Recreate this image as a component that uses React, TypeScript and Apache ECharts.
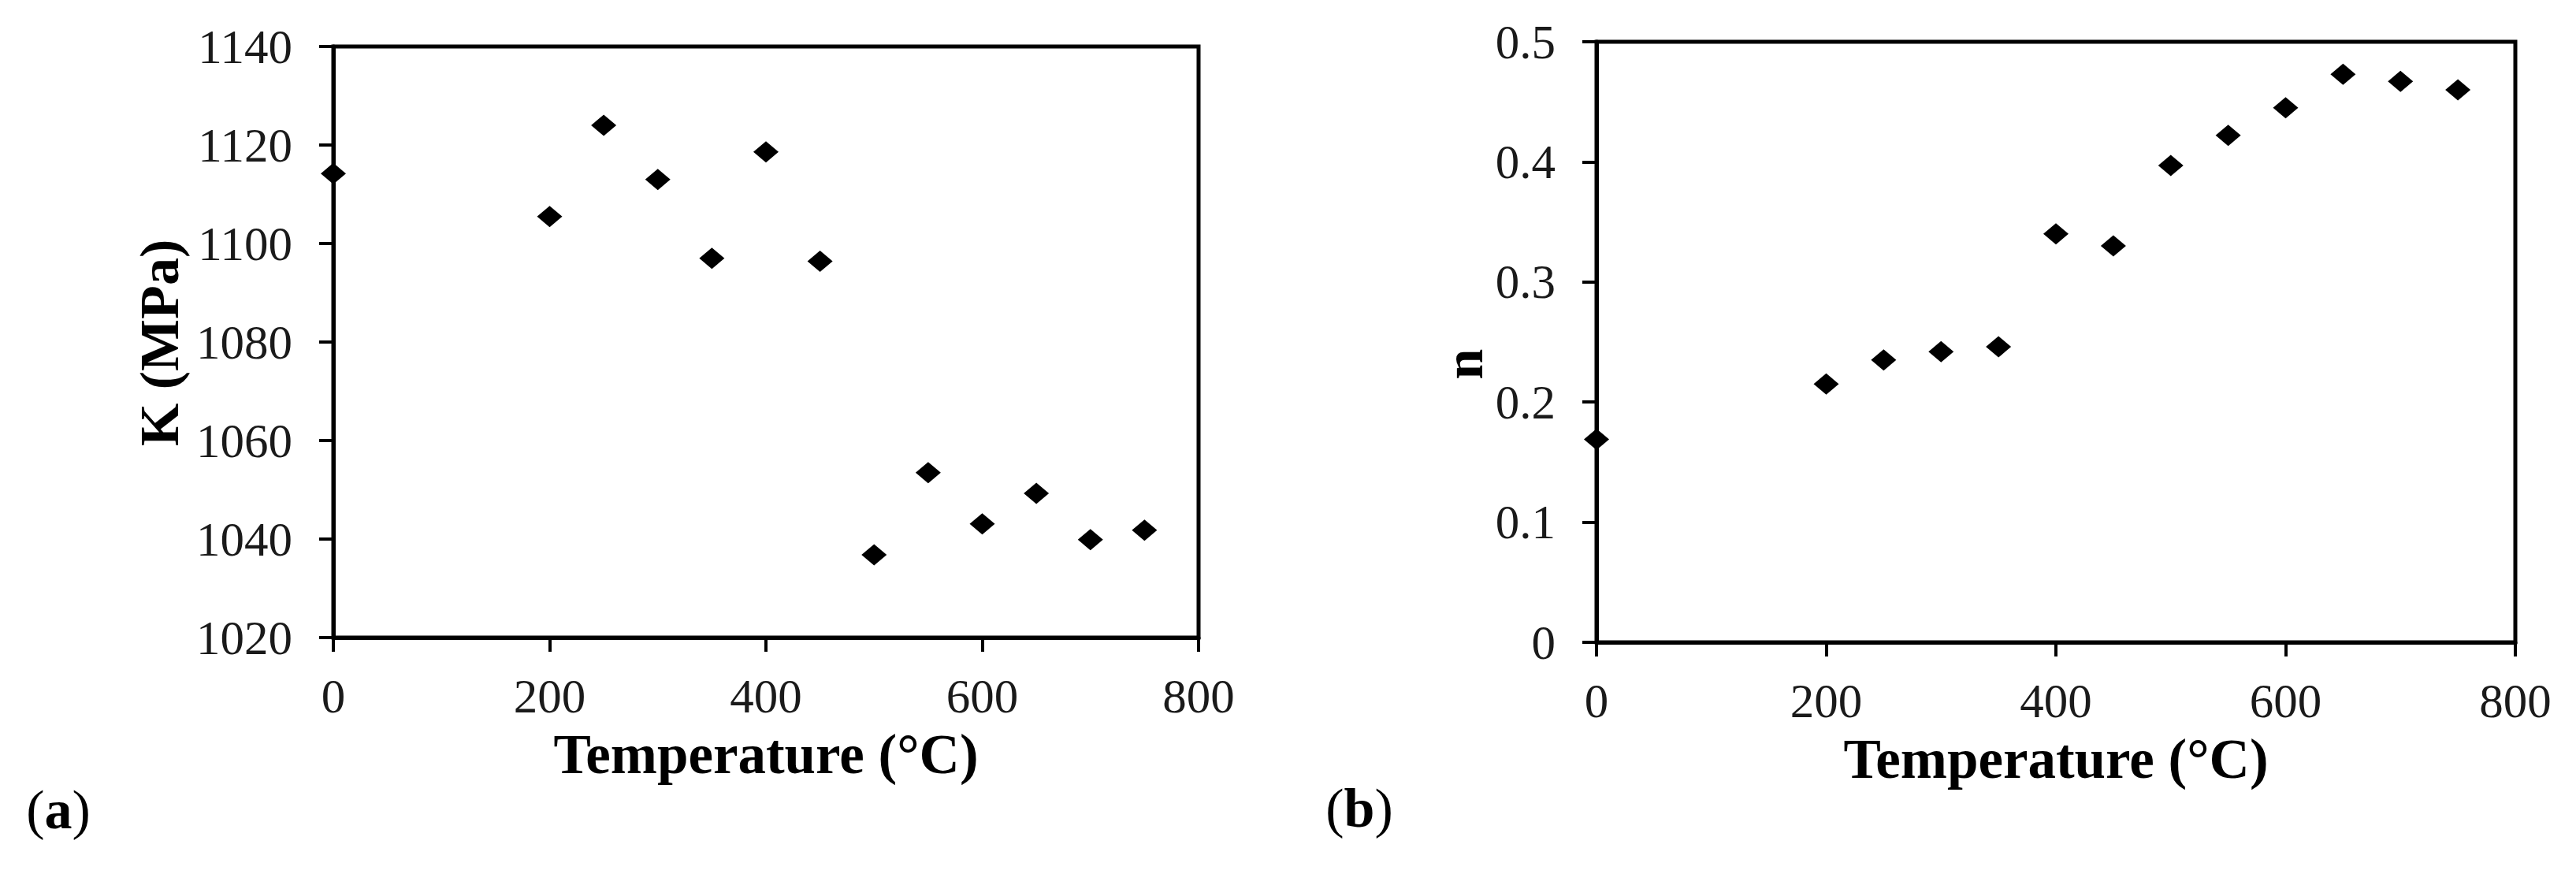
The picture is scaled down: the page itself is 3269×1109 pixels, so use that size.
import React, { useEffect, useRef } from "react";
import * as echarts from "echarts";

const temperatures = [0, 200, 250, 300, 350, 400, 450, 500, 550, 600, 650, 700, 750];
const kValues = [1114.2, 1105.5, 1124.0, 1113.0, 1097.0, 1118.6, 1096.4, 1036.8, 1053.5, 1043.1, 1049.3, 1039.9, 1041.8];
const nValues = [0.169, 0.215, 0.235, 0.242, 0.246, 0.340, 0.330, 0.397, 0.422, 0.445, 0.473, 0.467, 0.460];

const xTicks = { min: 0, max: 800, interval: 200 };
const kTicks = { min: 1020, max: 1140, interval: 20 };
const nTicks = { min: 0, max: 0.5, interval: 0.1 };

const FONT = "'Liberation Serif', 'Times New Roman', serif";

export default function App() {
  const ref = useRef<HTMLDivElement>(null);

  useEffect(() => {
    if (!ref.current) return;
    const chart = echarts.init(ref.current, null, { renderer: "svg" });

    const axisCommon = {
      axisLine: { show: true, onZero: false, lineStyle: { color: "#000", width: 5 } },
      axisTick: { show: true, inside: false, length: 18, lineStyle: { color: "#000", width: 4 } },
      splitLine: { show: false },
    };
    const labelStyle = {
      fontFamily: FONT,
      fontSize: 61,
      color: "#1a1a1a",
      formatter: (v: number) => String(Math.round(v * 1000) / 1000),
    };
    const xAxisDef = (gridIndex: number) => ({
      type: "value",
      gridIndex,
      ...xTicks,
      ...axisCommon,
      axisLabel: { ...labelStyle, margin: 44 },
      name: "Temperature (°C)",
      nameLocation: "middle",
      nameGap: 112,
      nameTextStyle: { fontFamily: FONT, fontSize: 71, fontWeight: "bold", color: "#000" },
    });

    chart.setOption({
      animation: false,
      backgroundColor: "#fff",
      grid: [
        { left: 423, top: 59, width: 1098, height: 750, show: true, borderColor: "#000", borderWidth: 5, backgroundColor: "transparent" },
        { left: 2026, top: 53, width: 1166, height: 762, show: true, borderColor: "#000", borderWidth: 5, backgroundColor: "transparent" },
      ],
      xAxis: [xAxisDef(0), xAxisDef(1)],
      yAxis: [
        {
          type: "value",
          gridIndex: 0,
          ...kTicks,
          ...axisCommon,
          axisLabel: { ...labelStyle, margin: 52 },
        },
        {
          type: "value",
          gridIndex: 1,
          ...nTicks,
          ...axisCommon,
          axisLabel: { ...labelStyle, margin: 52 },
        },
      ],
      graphic: [
        {
          type: "text",
          x: 202,
          y: 435,
          rotation: Math.PI / 2,
          style: { text: "K (MPa)", fontFamily: FONT, fontSize: 70, fontWeight: "bold", fill: "#000", align: "center", verticalAlign: "middle" },
        },
        {
          type: "text",
          x: 1857,
          y: 462,
          rotation: Math.PI / 2,
          style: { text: "n", fontFamily: FONT, fontSize: 70, fontWeight: "bold", fill: "#000", align: "center", verticalAlign: "middle" },
        },
        {
          type: "text",
          x: 74,
          y: 1027,
          style: {
            text: "{p|(}{b|a}{p|)}",
            align: "center",
            verticalAlign: "middle",
            rich: {
              p: { fontFamily: FONT, fontSize: 70, fill: "#000" },
              b: { fontFamily: FONT, fontSize: 70, fontWeight: "bold", fill: "#000" },
            },
          },
        },
        {
          type: "text",
          x: 1725,
          y: 1025,
          style: {
            text: "{p|(}{b|b}{p|)}",
            align: "center",
            verticalAlign: "middle",
            rich: {
              p: { fontFamily: FONT, fontSize: 70, fill: "#000" },
              b: { fontFamily: FONT, fontSize: 70, fontWeight: "bold", fill: "#000" },
            },
          },
        },
      ],
      series: [
        {
          type: "scatter",
          xAxisIndex: 0,
          yAxisIndex: 0,
          symbol: "diamond",
          symbolSize: [32, 27],
          itemStyle: { color: "#000", opacity: 1 },
          data: temperatures.map((t, i) => [t, kValues[i]]),
        },
        {
          type: "scatter",
          xAxisIndex: 1,
          yAxisIndex: 1,
          symbol: "diamond",
          symbolSize: [32, 27],
          itemStyle: { color: "#000", opacity: 1 },
          data: temperatures.map((t, i) => [t, nValues[i]]),
        },
      ],
    });

    return () => chart.dispose();
  }, []);

  return (
    <div
      ref={ref}
      style={{ position: "fixed", left: 0, top: 0, width: 3269, height: 1109, background: "#fff" }}
    />
  );
}
